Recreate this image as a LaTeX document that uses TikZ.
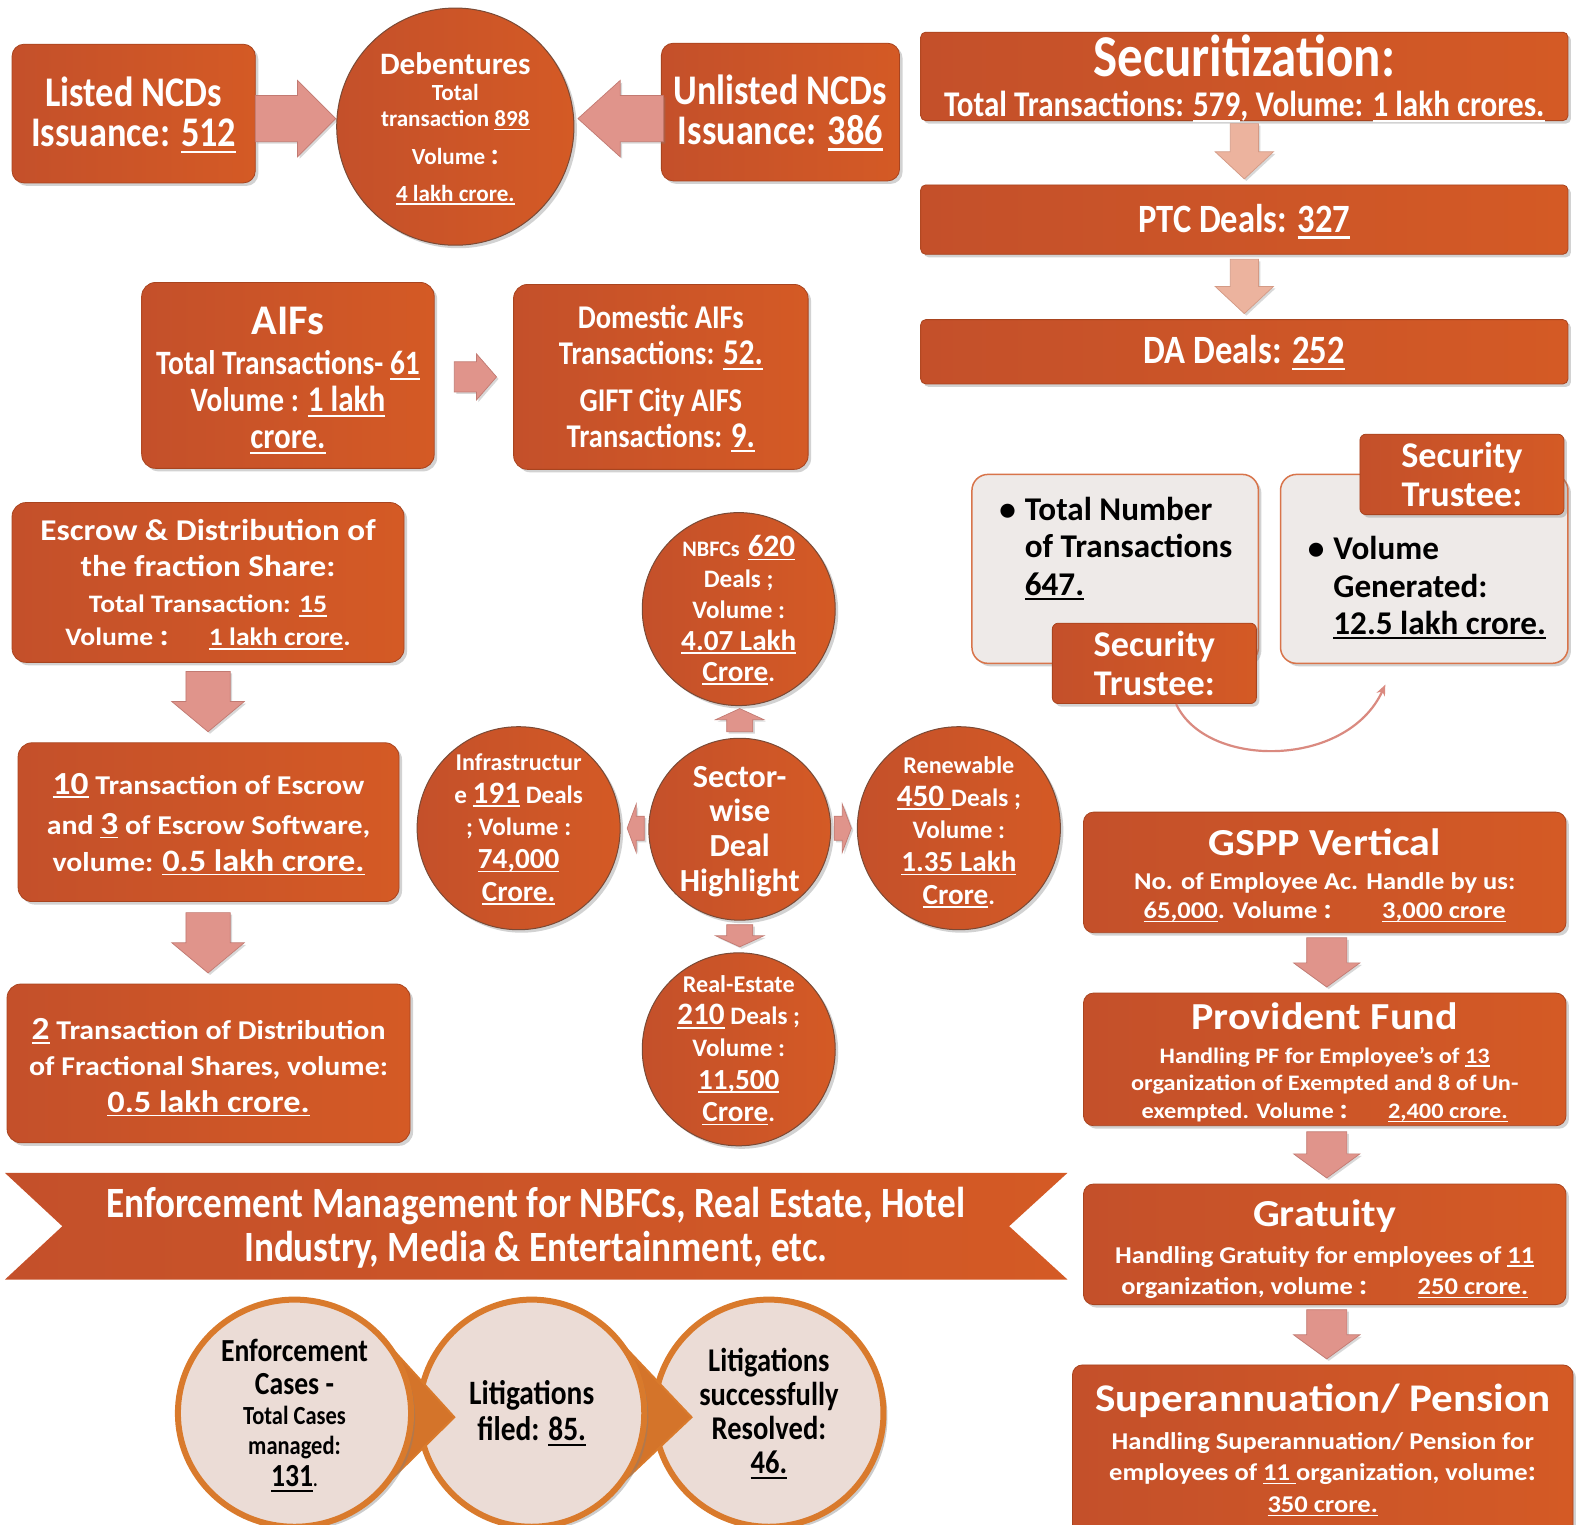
\documentclass[tikz,border=0pt]{standalone}
\usepackage{fontspec}
\setmainfont{Carlito}
\newfontfamily\cA{Carlito}[FakeStretch=0.86]
\newfontfamily\wA{Carlito}[FakeStretch=1.1]
\newfontfamily\fN{Carlito}
\usetikzlibrary{shadows,arrows.meta}
\newcommand\fs[2]{\fontsize{#1}{#2}\selectfont}
\newsavebox\unbx
\newcommand\un[1]{\sbox\unbx{#1}\rlap{\rule[-0.15em]{\wd\unbx}{0.06em}}\usebox{\unbx}}
\definecolor{org}{HTML}{CB5527}
\definecolor{orgL}{HTML}{C4502A}
\definecolor{orgR}{HTML}{D45A25}
\definecolor{orgd}{HTML}{A8441F}
\definecolor{cbd}{HTML}{7A4A36}
\definecolor{arw}{HTML}{E0948B}
\definecolor{arwd}{HTML}{C27A72}
\definecolor{peach}{HTML}{ECB39E}
\definecolor{peachd}{HTML}{D49A85}
\definecolor{lgray}{HTML}{EEEAE8}
\definecolor{gbd}{HTML}{D8744A}
\definecolor{curvc}{HTML}{DA8A80}
\definecolor{cream}{HTML}{EBDCD6}
\definecolor{goldc}{HTML}{D97A2C}
\definecolor{wedgec}{HTML}{D4742A}
\newcommand\barr[8]{%
\begin{scope}[shift={(#2,#3)},rotate=#4]
\path[#1] (0,-#6) -- ({#5-#8},-#6) -- ({#5-#8},-#7) -- (#5,0) -- ({#5-#8},#7) -- ({#5-#8},#6) -- (0,#6) -- cycle;
\end{scope}}
\begin{document}
\begin{tikzpicture}[x=1pt,y=-1pt,scale=1.0051,transform shape,
  shd/.style={drop shadow={opacity=0.35,shadow xshift=3pt,shadow yshift=-3pt}},
  box/.style={rounded corners=10pt, left color=orgL, right color=orgR, draw=orgd, line width=0.8pt, text=white, align=center, inner sep=0pt, shd},
  circ/.style={circle, left color=orgL, right color=orgR, draw=cbd, line width=1pt, inner sep=0pt, shd},
  txt/.style={text=white, align=center, inner sep=0pt},
  btxt/.style={text=black, align=center, inner sep=0pt},
  gbox/.style={rounded corners=16pt, fill=lgray, draw=gbd, line width=1.5pt, shd},
  arrA/.style={fill=arw, draw=arwd, line width=0.7pt, drop shadow={opacity=0.3,shadow xshift=2pt,shadow yshift=-2pt}},
  arrP/.style={fill=peach, draw=peachd, line width=0.7pt, drop shadow={opacity=0.3,shadow xshift=2pt,shadow yshift=-2pt}},
  curv/.style={draw=curvc, line width=2.2pt, -{Stealth[length=11pt,width=9pt]}},
  bell/.style={fill=cream, draw=goldc, line width=6pt, drop shadow={opacity=0.4,shadow xshift=4pt,shadow yshift=-4pt}},
  wedge/.style={fill=wedgec, draw=goldc, line width=2pt}
]
\useasboundingbox (0,0) rectangle (1568,1516.3);
\fill[white] (0,0) rectangle (1568,1516.3);

% ---------- top row ----------
\node[box, rounded corners=12pt, minimum width=242, minimum height=138] (listed) at (133,113) {};
\node[txt, font={\cA\bfseries\fs{42}{40}}] (listedt) at (133,114.5) {Listed NCDs\\Issuance: \un{512}};
\node[box, rounded corners=12pt, minimum width=237, minimum height=137] (unlisted) at (776.5,111.5) {};
\node[txt, font={\cA\bfseries\fs{42}{40}}] (unlistedt) at (776.5,112) {Unlisted NCDs\\Issuance: \un{386}};
\barr{arrA}{254}{118}{0}{80}{23}{38}{38}
\barr{arrA}{660}{118}{180}{85}{23}{38}{42}
\node[circ, minimum size=236] (deb) at (453,126) {};
\node[txt, font={\fN\bfseries\fs{23}{26}}] (debt) at (453,128) {{\fs{31}{31}Debentures}\\Total\\transaction \un{898}\\[12pt]Volume {\fs{30}{30}:}\\[10pt]\un{4 lakh crore.}};

% ---------- securitization ----------
\node[box, rounded corners=5pt, minimum width=644, minimum height=88] (sec) at (1238,76) {};
\node[txt, font={\cA\bfseries\fs{36}{40}}] (sect) at (1238,78) {{\fs{59}{59}Securitization:}\\Total Transactions: \un{579}, Volume: \un{1 lakh crores.}};
\barr{arrP}{1238}{123}{-90}{55}{14}{29}{27}
\node[box, rounded corners=5pt, minimum width=644, minimum height=69] (ptc) at (1238,218.5) {};
\node[txt, font={\cA\bfseries\fs{40}{40}}] (ptct) at (1238,220.5) {PTC Deals: \un{327}};
\barr{arrP}{1238}{258}{-90}{54}{14}{29}{27}
\node[box, rounded corners=5pt, minimum width=644, minimum height=64] (da) at (1238,350) {};
\node[txt, font={\cA\bfseries\fs{40}{40}}] (dat) at (1238,351) {DA Deals: \un{252}};

% ---------- AIFs ----------
\node[box, rounded corners=14pt, minimum width=291, minimum height=185] (aif) at (286.5,373.5) {};
\node[txt, font={\cA\bfseries\fs{34}{37}}] (aift) at (286.5,378.5) {{\fN\fs{42}{42}AIFs}\\[3pt]Total Transactions- \un{61}\\Volume : \un{{\fs{36}{36}1 lakh}}\\\un{{\fs{36}{36}crore.}}};
\barr{arrA}{452}{375}{0}{42}{15}{23}{20}
\node[box, rounded corners=14pt, minimum width=293, minimum height=184] (dom) at (657.5,375) {};
\node[txt, font={\cA\bfseries\fs{33}{36}}] (domt) at (657.5,377) {Domestic AIFs\\Transactions: \un{{\fs{36}{36}52.}}\\[10pt]GIFT City AIFS\\Transactions: \un{{\fs{36}{36}9.}}};

% ---------- security trustee ----------
\node[gbox, minimum width=285, minimum height=188] (ga) at (1109.5,566) {};
\node[gbox, minimum width=286, minimum height=188] (gb) at (1417,566) {};
\node[anchor=north west, inner sep=0pt, font={\fN\bfseries\fs{33}{37}}] (gat) at (994,492) {\begin{tabular}{@{}l@{\hspace{9pt}}l@{}}\textbullet&Total Number\\&of Transactions\\&\un{647.}\end{tabular}};
\node[anchor=north west, inner sep=0pt, font={\fN\bfseries\fs{33}{37}}] (gbt) at (1301,531) {\begin{tabular}{@{}l@{\hspace{9pt}}l@{}}\textbullet&Volume\\&Generated:\\&\un{12.5 lakh crore.}\end{tabular}};
\node[box, rounded corners=6pt, minimum width=203, minimum height=80, font={\fN\bfseries\fs{36}{39}}] (st1) at (1148.5,660) {Security\\Trustee:};
\node[box, rounded corners=6pt, minimum width=203, minimum height=80, font={\fN\bfseries\fs{36}{39}}] (st2) at (1454.5,472) {Security\\Trustee:};
\coordinate (cvend) at (1378,681);
\draw[curv] (st1.-62) .. controls (1200,765) and (1340,765) .. (cvend);

% ---------- escrow ----------
\node[box, rounded corners=14pt, minimum width=390, minimum height=159] (esc1) at (207,579.5) {};
\node[txt, font={\wA\bfseries\fs{25}{33}}] (esc1t) at (207,581.5) {{\fs{30}{36}Escrow \& Distribution of}\\[3pt]{\fs{30}{36}the fraction Share:}\\[3pt]Total Transaction: \un{15}\\Volume {\fs{30}{30}:}\hspace{40pt}\un{1 lakh crore}.};
\barr{arrA}{207}{668}{-90}{60}{22}{36}{30}
\node[box, rounded corners=14pt, minimum width=379, minimum height=158] (esc2) at (207.5,818) {};
\node[txt, font={\wA\bfseries\fs{27}{37}}] (esc2t) at (207.5,820) {\un{{\fs{32}{32}10}} Transaction of Escrow\\[3pt]and \un{{\fs{32}{32}3}} of Escrow Software,\\volume: \un{{\fs{31}{31}0.5 lakh crore.}}};
\barr{arrA}{207}{908}{-90}{60}{22}{36}{30}
\node[box, rounded corners=14pt, minimum width=401, minimum height=158] (esc3) at (207.5,1058) {};
\node[txt, font={\wA\bfseries\fs{27}{36}}] (esc3t) at (207.5,1062) {\un{{\fs{32}{32}2}} Transaction of Distribution\\of Fractional Shares, volume:\\\un{{\fs{31}{31}0.5 lakh crore.}}};

% ---------- sectors ----------
\node[circ, minimum size=181] (sc) at (736,825) {};
\node[txt, font={\fN\bfseries\fs{32}{34.5}}] (sct) at (736,827) {Sector-\\wise\\Deal\\Highlight};
\node[circ, minimum size=192] (nbfc) at (735,606) {};
\node[txt, font={\fN\bfseries\fs{25}{31}}] (nbfct) at (735,607) {{\fs{22}{22}NBFCs}\hspace{8pt}\un{{\fs{31}{31}620}}\\Deals ;\\Volume :\\\un{{\fs{29}{29}4.07 Lakh}}\\\un{{\fs{29}{29}Crore}}.};
\node[circ, minimum size=202] (infra) at (516,824) {};
\node[txt, font={\fN\bfseries\fs{25}{32.5}}] (infrat) at (516,825) {{\fs{24}{24}Infrastructur}\\e \un{{\fs{31}{31}191}} Deals\\; Volume :\\\un{{\fs{29}{29}74,000}}\\\un{{\fs{29}{29}Crore.}}};
\node[circ, minimum size=202] (renew) at (954,824) {};
\node[txt, font={\fN\bfseries\fs{25}{32.5}}] (renewt) at (954,828) {{\fs{24}{24}Renewable}\\\un{{\fs{31}{31}450 }}Deals ;\\Volume :\\\un{{\fs{29}{29}1.35 Lakh}}\\\un{{\fs{29}{29}Crore}}.};
\node[circ, minimum size=192] (real) at (735,1044) {};
\node[txt, font={\fN\bfseries\fs{25}{32}}] (realt) at (735,1045) {{\fs{24}{24}Real-Estate}\\\un{{\fs{31}{31}210}} Deals ;\\Volume :\\\un{{\fs{29}{29}11,500}}\\\un{{\fs{29}{29}Crore}}.};
\barr{arrA}{736}{728}{90}{23}{13}{24}{11}
\barr{arrA}{736}{920}{-90}{22}{13}{24}{11}
\barr{arrA}{641}{824}{180}{17}{12}{24}{9}
\barr{arrA}{830}{824}{0}{17}{12}{24}{9}

% ---------- GSPP ----------
\node[box, rounded corners=10pt, minimum width=480, minimum height=120] (gspp) at (1318,868) {};
\node[txt, font={\wA\bfseries\fs{24}{29}}] (gsppt) at (1318,871) {{\fs{38}{38}GSPP Vertical}\\[5pt]No. of Employee Ac. Handle by us:\\\un{65,000}. Volume {\fs{28}{28}:}\hspace{50pt}\un{3,000 crore}};
\barr{arrA}{1320}{933}{-90}{49}{20}{33}{24}
\node[box, rounded corners=10pt, minimum width=480, minimum height=132] (pf) at (1318,1054) {};
\node[txt, font={\wA\bfseries\fs{22}{27.5}}] (pft) at (1318,1057) {{\fs{38}{38}Provident Fund}\\[6pt]Handling PF for Employee’s of \un{13}\\organization of Exempted and 8 of Un-\\exempted. Volume {\fs{28}{28}:}\hspace{40pt}\un{2,400 crore.}};
\barr{arrA}{1320}{1126}{-90}{46}{20}{33}{24}
\node[box, rounded corners=10pt, minimum width=480, minimum height=120] (grat) at (1318,1238) {};
\node[txt, font={\wA\bfseries\fs{24}{31}}] (gratt) at (1318,1242.5) {{\fs{38}{38}Gratuity}\\[6pt]Handling Gratuity for employees of \un{11}\\organization, volume {\fs{28}{28}:}\hspace{50pt}\un{250 crore.}};
\barr{arrA}{1320}{1303}{-90}{49}{20}{33}{24}
\node[box, rounded corners=10pt, minimum width=498, minimum height=180] (sup) at (1316,1448) {};
\node[txt, font={\wA\bfseries\fs{24}{31.5}}] (supt) at (1316,1442.5) {{\fs{39}{39}Superannuation/ Pension}\\[6pt]Handling Superannuation/ Pension for\\employees of \un{11 }organization, volume{\fs{28}{28}:}\\\un{350 crore.}};

% ---------- banner ----------
\path[left color=orgL, right color=orgR] (5,1167) -- (1062,1167) -- (1004,1220) -- (1062,1273) -- (5,1273) -- (62,1220) -- cycle;
\node[txt, font={\cA\bfseries\fs{43}{43}}] (ban) at (533,1221.5) {Enforcement Management for NBFCs, Real Estate, Hotel\\Industry, Media \& Entertainment, etc.};

% ---------- bottom circles ----------
\path[bell] (765,1406) ellipse [x radius=114, y radius=113];
\path[wedge] (615,1333) -- (688,1410) -- (615,1479) -- cycle;
\path[bell] (529,1406) ellipse [x radius=112, y radius=113];
\path[wedge] (382,1333) -- (452,1410) -- (382,1479) -- cycle;
\path[bell] (293,1406) ellipse [x radius=116, y radius=113];
\node[btxt, font={\cA\bfseries\fs{32}{30}}] (c1t) at (293,1408) {Enforcement\\[3pt]Cases -\\{\fs{26}{26}Total Cases}\\{\fs{26}{26}managed:}\\[2pt]\un{131}{\fs{20}{20}.}};
\node[btxt, font={\cA\bfseries\fs{34}{36}}] (c2t) at (529,1406) {Litigations\\filed: \un{85.}};
\node[btxt, font={\cA\bfseries\fs{33}{34}}] (c3t) at (765,1406) {Litigations\\successfully\\Resolved:\\\un{46.}};
\end{tikzpicture}
\end{document}
